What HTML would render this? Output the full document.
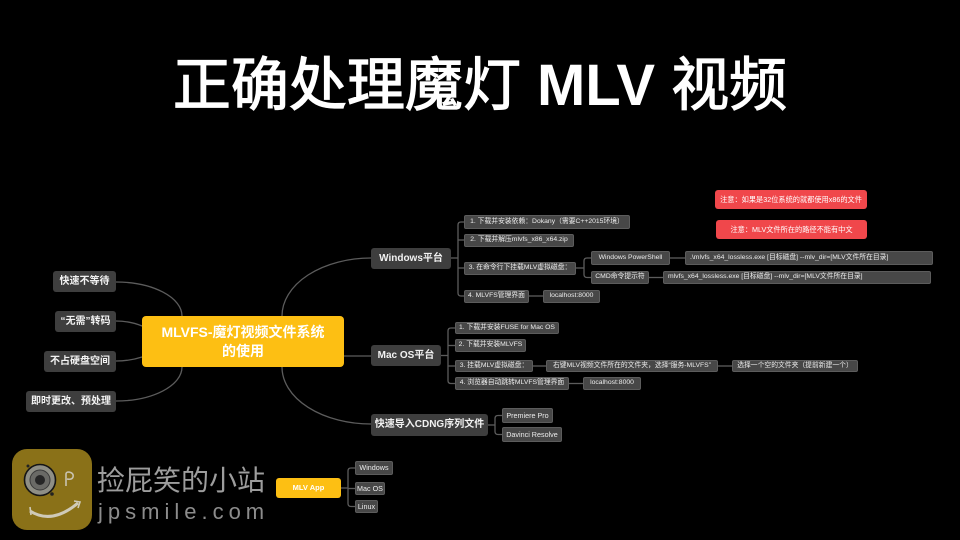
<!DOCTYPE html>
<html><head><meta charset="utf-8">
<style>
html,body{margin:0;padding:0;background:#000;}
#c{position:relative;width:960px;height:540px;overflow:hidden;background:#000;font-family:"Liberation Sans","Noto Sans CJK SC",sans-serif;}
.n{position:absolute;display:flex;align-items:center;justify-content:center;white-space:nowrap;color:#ececec;background:#474747;border-radius:3px;box-sizing:border-box;line-height:1;}
.s{font-size:6.8px;border-radius:2px;border:1px solid #5c5c5c;}
.l{justify-content:flex-start;padding-left:4px;}
.m{font-size:10px;font-weight:bold;color:#f2f2f2;border-radius:3px;background:#3e3e3e;}
.r{background:#f0474b;color:#fff;font-size:7.2px;border-radius:3px;}
.y{background:#fdbf13;color:#fff;font-weight:bold;}
svg{position:absolute;left:0;top:0;}
</style></head><body>
<div id="c">
<svg width="960" height="540" viewBox="0 0 960 540">
 <g fill="none" stroke="#5c5c5c" stroke-width="1.3">
  <path d="M282,316 A89,58 0 0 1 371,258"/>
  <path d="M344,356 L371,356"/>
  <path d="M282,367 A89,57 0 0 0 371,424"/>
  <path d="M116,282 A66,34 0 0 1 182,316"/>
  <path d="M116,321 Q130,321 142,326"/>
  <path d="M116,361 Q130,361 142,357"/>
  <path d="M116,401 A66,34 0 0 0 182,367"/>
  <path d="M451,258 L458,258"/>
  <path d="M464,222 L461,222 Q458,222 458,225 L458,293 Q458,296 461,296 L464,296"/>
  <path d="M458,240 L464,240"/>
  <path d="M458,268 L464,268"/>
  <path d="M576,268 L584,268"/>
  <path d="M591,258 L587,258 Q584,258 584,261 L584,274.5 Q584,277.5 587,277.5 L591,277.5"/>
  <path d="M670,258 L685,258"/>
  <path d="M649,277.5 L663,277.5"/>
  <path d="M529,296 L543,296"/>
  <path d="M441,355.5 L448,355.5"/>
  <path d="M455,328 L451,328 Q448,328 448,331 L448,380.5 Q448,383.5 451,383.5 L455,383.5"/>
  <path d="M448,345.5 L455,345.5"/>
  <path d="M448,366 L455,366"/>
  <path d="M533,366 L546,366"/>
  <path d="M718,366 L732,366"/>
  <path d="M569,383.5 L583,383.5"/>
  <path d="M488,425 L495,425"/>
  <path d="M502,415.5 L498,415.5 Q495,415.5 495,418.5 L495,431.5 Q495,434.5 498,434.5 L502,434.5"/>
  <path d="M341,488 L348,488"/>
  <path d="M355,468 L351,468 Q348,468 348,471 L348,503.5 Q348,506.5 351,506.5 L355,506.5"/>
  <path d="M348,488.5 L355,488.5"/>
 </g>
 <rect x="12" y="449" width="80" height="81" rx="15" fill="#8a7118"/>
 <circle cx="40" cy="480" r="15.5" fill="#8f8f86" stroke="#151515" stroke-width="1.6"/>
 <circle cx="40" cy="480" r="10" fill="#6a6a66" stroke="#3a3a3a" stroke-width="1"/>
 <circle cx="40" cy="480" r="5" fill="#262626"/>
 <circle cx="28" cy="466" r="1.5" fill="#222"/>
 <circle cx="52" cy="494" r="1.8" fill="#222"/>
 <path d="M66,486 L66,474 Q66,472 69,472 Q74,473 73,477 Q72,480 67,479" fill="none" stroke="#c9c3b0" stroke-width="1.6"/>
 <path d="M30,511 Q52,525 78,503" fill="none" stroke="#cfcab8" stroke-width="3"/>
 <path d="M74,501 L80,502 L78,508" fill="none" stroke="#cfcab8" stroke-width="1.6"/>
 <path d="M30,507 L31,515" fill="none" stroke="#cfcab8" stroke-width="1.6"/>
</svg>

<div style="position:absolute;left:0;top:57px;width:960px;text-align:center;color:#fff;font-size:58px;line-height:58px;font-weight:400;-webkit-text-stroke:1.2px #fff;white-space:nowrap;">正确处理魔灯 <span style="font-weight:bold;-webkit-text-stroke:0;">MLV</span> 视频</div>

<div class="n y" style="left:142px;top:316px;width:202px;height:51px;font-size:14px;line-height:19px;text-align:center;border-radius:4px;flex-direction:column;">MLVFS-魔灯视频文件系统<br>的使用</div>

<div class="n m" style="left:53px;top:271px;width:63px;height:21px;">快速不等待</div>
<div class="n m" style="left:55px;top:311px;width:61px;height:21px;">“无需”转码</div>
<div class="n m" style="left:44px;top:351px;width:72px;height:21px;">不占硬盘空间</div>
<div class="n m" style="left:26px;top:391px;width:90px;height:21px;">即时更改、预处理</div>

<div class="n m" style="left:371px;top:248px;width:80px;height:21px;">Windows平台</div>
<div class="n m" style="left:371px;top:345px;width:70px;height:21px;">Mac OS平台</div>
<div class="n m" style="left:371px;top:414px;width:117px;height:22px;">快速导入CDNG序列文件</div>

<div class="n r" style="left:715px;top:190px;width:152px;height:19px;">注意：如果是32位系统的就都使用x86的文件</div>
<div class="n r" style="left:716px;top:220px;width:151px;height:19px;">注意：MLV文件所在的路径不能有中文</div>

<div class="n s" style="left:464px;top:215px;width:166px;height:14px;">1. 下载并安装依赖：Dokany（需要C++2015环境）</div>
<div class="n s" style="left:464px;top:234px;width:110px;height:13px;">2. 下载并解压mlvfs_x86_x64.zip</div>
<div class="n s" style="left:464px;top:262px;width:112px;height:13px;">3. 在命令行下挂载MLV虚拟磁盘：</div>
<div class="n s" style="left:464px;top:290px;width:65px;height:13px;">4. MLVFS管理界面</div>
<div class="n s" style="left:543px;top:290px;width:57px;height:13px;">localhost:8000</div>
<div class="n s" style="left:591px;top:251px;width:79px;height:14px;">Windows PowerShell</div>
<div class="n s" style="left:591px;top:271px;width:58px;height:13px;">CMD命令提示符</div>
<div class="n s l" style="left:685px;top:251px;width:248px;height:14px;">.\mlvfs_x64_lossless.exe [目标磁盘] --mlv_dir=[MLV文件所在目录]</div>
<div class="n s l" style="left:663px;top:271px;width:268px;height:13px;">mlvfs_x64_lossless.exe [目标磁盘] --mlv_dir=[MLV文件所在目录]</div>

<div class="n s" style="left:455px;top:322px;width:104px;height:12px;">1. 下载并安装FUSE for Mac OS</div>
<div class="n s" style="left:455px;top:339px;width:71px;height:13px;">2. 下载并安装MLVFS</div>
<div class="n s" style="left:455px;top:360px;width:78px;height:12px;">3. 挂载MLV虚拟磁盘：</div>
<div class="n s" style="left:546px;top:360px;width:172px;height:12px;">右键MLV视频文件所在的文件夹，选择“服务-MLVFS”</div>
<div class="n s" style="left:732px;top:360px;width:126px;height:12px;">选择一个空的文件夹（提前新建一个）</div>
<div class="n s" style="left:455px;top:377px;width:114px;height:13px;">4. 浏览器自动跳转MLVFS管理界面</div>
<div class="n s" style="left:583px;top:377px;width:58px;height:13px;">localhost:8000</div>

<div class="n s" style="left:502px;top:408px;width:51px;height:15px;font-size:7.2px;">Premiere Pro</div>
<div class="n s" style="left:502px;top:427px;width:60px;height:15px;font-size:7.2px;">Davinci Resolve</div>

<div class="n y" style="left:276px;top:478px;width:65px;height:20px;font-size:7.5px;border-radius:3px;">MLV App</div>
<div class="n s" style="left:355px;top:461px;width:38px;height:14px;font-size:7.2px;">Windows</div>
<div class="n s" style="left:355px;top:482px;width:30px;height:13px;font-size:7.2px;">Mac OS</div>
<div class="n s" style="left:355px;top:500px;width:23px;height:13px;font-size:7.2px;">Linux</div>

<div style="position:absolute;left:97px;top:462px;font-size:28px;line-height:34px;color:#9d9d9d;white-space:nowrap;font-family:'Noto Sans CJK SC',sans-serif;">捡屁笑的小站</div>
<div style="position:absolute;left:98px;top:499px;font-size:22px;line-height:26px;color:#8c8c8c;letter-spacing:5px;white-space:nowrap;">jpsmile.com</div>
</div>
</body></html>
